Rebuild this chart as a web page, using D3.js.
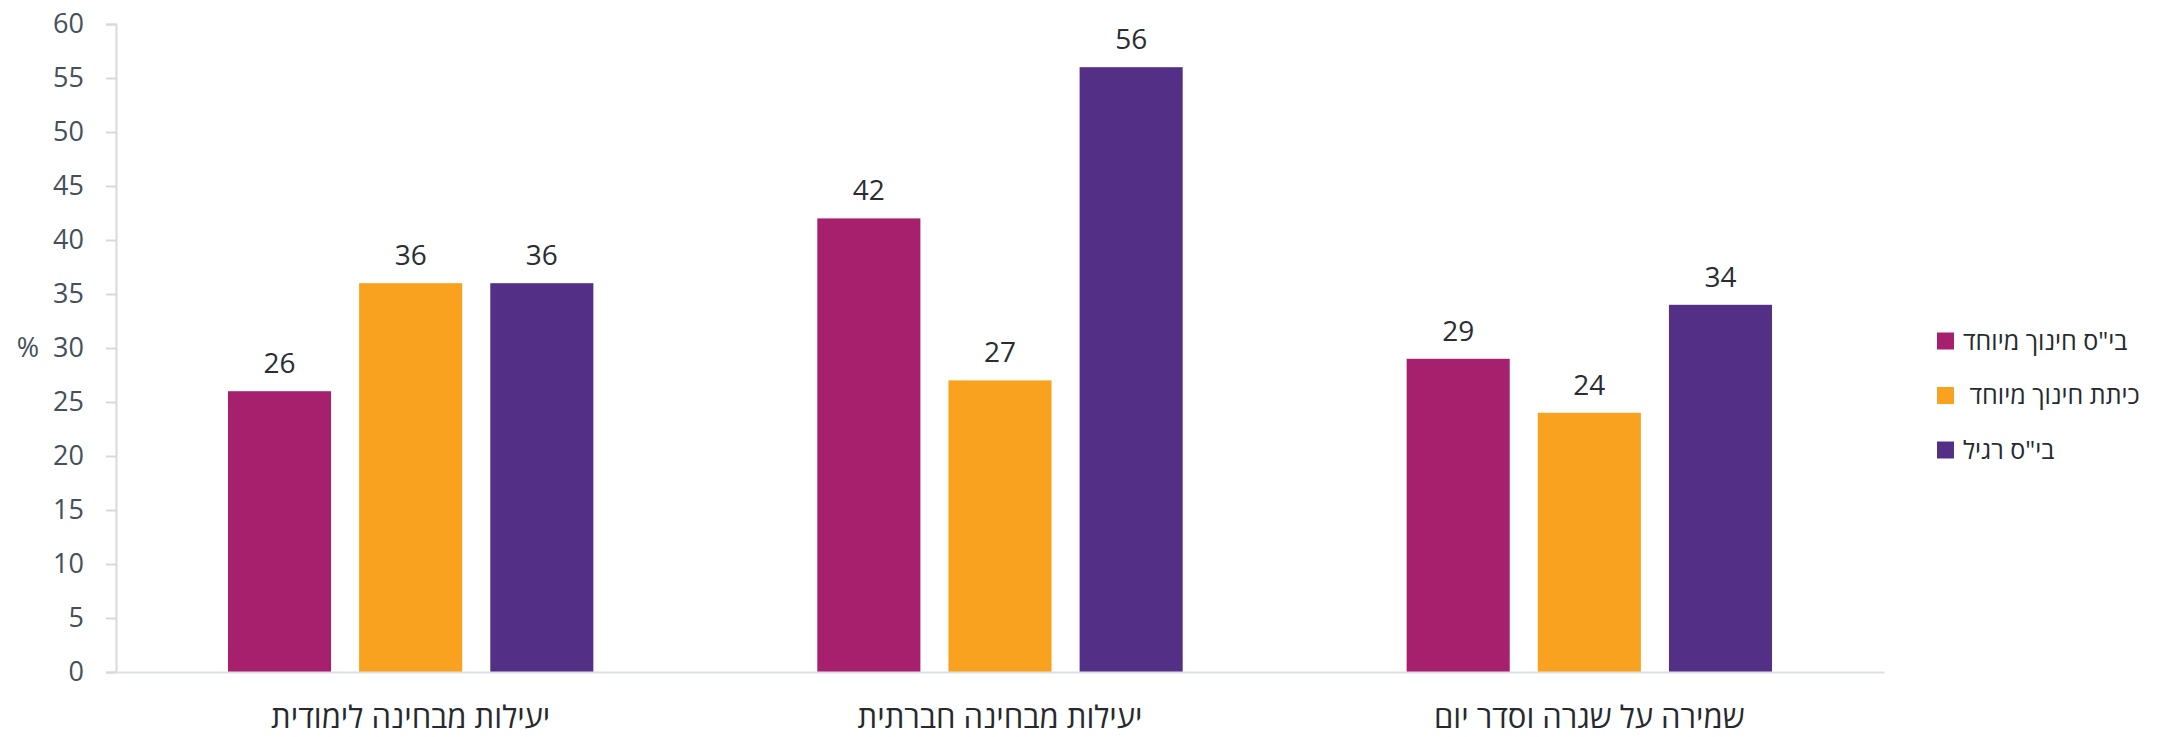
<!DOCTYPE html>
<html>
<head>
<meta charset="utf-8">
<script src="https://cdn.jsdelivr.net/npm/d3@7"></script>
<style>
  html, body { margin: 0; padding: 0; background: #fff; }
  svg { display: block; }
</style>
</head>
<body>
<svg id="chart" width="2174" height="737"></svg>
<script>
const categories = ["יעילות מבחינה לימודית", "יעילות מבחינה חברתית", "שמירה על שגרה וסדר יום"];
const seriesNames = ["בי\"ס חינוך מיוחד", "כיתת חינוך מיוחד ", "בי\"ס רגיל"];
const specialSchool = [26, 42, 29];
const specialClass = [36, 27, 24];
const regularSchool = [36, 56, 34];
const yTicks = [0, 5, 10, 15, 20, 25, 30, 35, 40, 45, 50, 55, 60];
const colors = ["#A7206E", "#F8A21F", "#533086"];
const seriesValues = [specialSchool, specialClass, regularSchool];

const svg = d3.select("#chart");
const font = "'Open Sans', 'DejaVu Sans', sans-serif";

const x0 = d3.scaleBand().domain(categories).range([116, 1884]).paddingInner(0.38).paddingOuter(0.19);
const x1 = d3.scaleBand().domain(seriesNames).range([0, x0.bandwidth()]).paddingInner(0.214);
const y = d3.scaleLinear().domain([0, 60]).range([672, 24]);

// Y axis
const yAxis = svg.append("g").attr("transform", "translate(116,0)")
  .call(d3.axisLeft(y).tickValues(yTicks).tickSize(10).tickPadding(22));
yAxis.select(".domain").attr("stroke", "#d9d9d9").attr("stroke-width", 2);
yAxis.selectAll(".tick line").attr("stroke", "#d9d9d9").attr("stroke-width", 2);
yAxis.selectAll(".tick text").attr("fill", "#44505c").style("font-family", font).style("font-size", "27px");

svg.append("text").attr("x", 28).attr("y", y(30)).attr("dy", "0.35em")
  .attr("text-anchor", "middle").attr("fill", "#44505c")
  .style("font-family", font).style("font-size", "27px").text("%");

// bars
const groups = svg.append("g").selectAll("g").data(categories).join("g")
  .attr("transform", d => `translate(${x0(d)},0)`);

groups.selectAll("rect").data((c, ci) => seriesNames.map((s, si) => ({s, si, v: seriesValues[si][ci]})))
  .join("rect")
  .attr("x", d => x1(d.s))
  .attr("width", x1.bandwidth())
  .attr("y", d => y(d.v))
  .attr("height", d => y(0) - y(d.v))
  .attr("fill", d => colors[d.si]);

groups.selectAll("text.val").data((c, ci) => seriesNames.map((s, si) => ({s, si, v: seriesValues[si][ci]})))
  .join("text").attr("class", "val")
  .attr("x", d => x1(d.s) + x1.bandwidth() / 2)
  .attr("y", d => y(d.v) - 18)
  .attr("text-anchor", "middle").attr("fill", "#2a2e33")
  .style("font-family", font).style("font-size", "28px")
  .text(d => d.v);

// X axis
const xAxis = svg.append("g").attr("transform", `translate(0,${y(0)})`)
  .call(d3.axisBottom(x0).tickSize(0).tickPadding(0));
xAxis.select(".domain").attr("stroke", "#dde1e5").attr("stroke-width", 2);
xAxis.selectAll(".tick text").attr("y", 56).attr("dy", 0)
  .attr("fill", "#262a2e").style("font-family", font).style("font-size", "31px");

// legend
const legend = svg.append("g").selectAll("g").data(seriesNames).join("g")
  .attr("transform", (d, i) => `translate(1937,${341 + i * 54.5})`);
legend.append("rect").attr("x", 0).attr("y", -8.5).attr("width", 17).attr("height", 17)
  .attr("fill", (d, i) => colors[i]);
legend.append("text").attr("x", 26).attr("y", 0).attr("dy", "0.35em")
  .attr("direction", "rtl").attr("text-anchor", "end")
  .style("white-space", "pre")
  .attr("fill", "#262a2e").style("font-family", font).style("font-size", "25px")
  .text(d => d);
</script>
</body>
</html>
